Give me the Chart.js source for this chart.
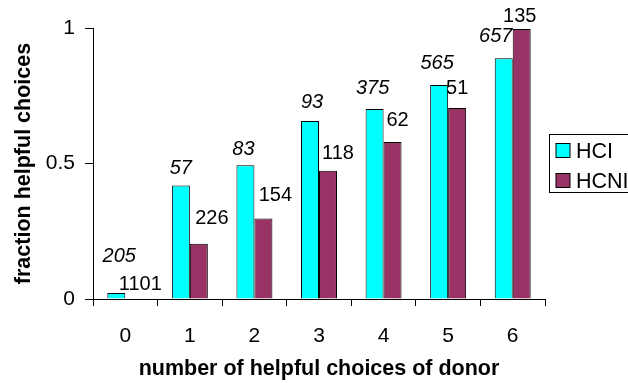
<!DOCTYPE html>
<html>
<head>
<meta charset="utf-8">
<script src="https://cdn.jsdelivr.net/npm/chart.js@4/dist/chart.umd.min.js"></script>
<style>
  html, body { margin: 0; padding: 0; background: #fff; overflow: hidden; }
  #wrap { width: 628px; height: 383px; position: relative; }
</style>
</head>
<body>
<div id="wrap"><canvas id="c" width="628" height="383"></canvas></div>
<script>
// ---- data ----
const categories = ["0", "1", "2", "3", "4", "5", "6"];
const seriesNames = ["HCI", "HCNI"];
const hciValues  = [0.022, 0.419, 0.494, 0.657, 0.701, 0.790, 0.888];
const hcniValues = [0.000, 0.204, 0.297, 0.473, 0.579, 0.705, 0.996];
const hciCounts  = [205, 57, 83, 93, 375, 565, 657];
const hcniCounts = [1101, 226, 154, 118, 62, 51, 135];
const yTicks = [0, 0.5, 1];
const xTitle = "number of helpful choices of donor";
const yTitle = "fraction helpful choices";

// ---- styling / label placement (pixels, relative to bar top centre) ----
const FONT = "'Liberation Sans', Arial, sans-serif";
const labelOffsets = [
  [[3, -38], [0, -19], [-2, -17], [2, -20], [-2, -22], [-2, -23], [-8, -24]],
  [[6, -16], [13, -27], [12, -25], [10, -19], [5, -23], [0, -21], [-2, -14]]
];
const countSets = [hciCounts, hcniCounts];
const labelItalic = [true, false];

const dataLabelPlugin = {
  id: 'dataLabels',
  afterDatasetsDraw(chart) {
    const ctx = chart.ctx;
    const fs = 20;
    ctx.save();
    ctx.fillStyle = '#000';
    ctx.textAlign = 'center';
    ctx.textBaseline = 'alphabetic';
    chart.data.datasets.forEach((ds, di) => {
      const meta = chart.getDatasetMeta(di);
      ctx.font = (labelItalic[di] ? 'italic ' : '') + fs + 'px ' + FONT;
      meta.data.forEach((el, i) => {
        const off = labelOffsets[di][i];
        const x = el.x + off[0];
        const y = el.y + off[1] + 0.358 * fs;
        ctx.fillText(String(countSets[di][i]), x, y);
      });
    });
    ctx.restore();
  }
};

const legendPlugin = {
  id: 'boxLegend',
  afterDraw(chart) {
    const ctx = chart.ctx;
    ctx.save();
    ctx.strokeStyle = '#000';
    ctx.lineWidth = 1;
    ctx.strokeRect(549.5, 134.5, 200, 58);
    ctx.font = '21.5px ' + FONT;
    ctx.textBaseline = 'alphabetic';
    ctx.textAlign = 'left';
    chart.data.datasets.forEach((ds, di) => {
      const top = 143.5 + di * 30;
      ctx.fillStyle = ds.backgroundColor;
      ctx.fillRect(556, top, 14, 14);
      ctx.strokeStyle = '#000';
      ctx.strokeRect(556, top, 14, 14);
      ctx.fillStyle = '#000';
      ctx.fillText(ds.label, 576, top + 14.8);
    });
    ctx.restore();
  }
};

new Chart(document.getElementById('c'), {
  type: 'bar',
  data: {
    labels: categories,
    datasets: [
      { label: seriesNames[0], data: hciValues, backgroundColor: '#00FFFF', borderColor: '#000', borderWidth: 1 },
      { label: seriesNames[1], data: hcniValues, backgroundColor: '#993366', borderColor: '#000', borderWidth: 1 }
    ]
  },
  options: {
    responsive: false,
    animation: false,
    devicePixelRatio: 1,
    categoryPercentage: 0.557,
    barPercentage: 1.0,
    layout: { padding: { top: 28, right: 83, left: 0, bottom: 0 } },
    plugins: { legend: { display: false }, tooltip: { enabled: false } },
    scales: {
      x: {
        offset: true,
        grid: { offset: true, drawOnChartArea: false, drawTicks: true, tickLength: 7, color: '#000' },
        border: { display: true, color: '#000' },
        ticks: { color: '#000', font: { family: FONT, size: 21 }, padding: 18, maxRotation: 0 },
        title: { display: true, text: xTitle, color: '#000', font: { family: FONT, size: 21.5, weight: 'bold' }, padding: { top: 0, bottom: 1 } },
        afterFit(scale) { scale.height = 84; }
      },
      y: {
        min: 0, max: 1,
        afterBuildTicks(scale) { scale.ticks = yTicks.map(v => ({ value: v })); },
        grid: { drawOnChartArea: false, drawTicks: true, tickLength: 8, color: '#000' },
        border: { display: true, color: '#000' },
        ticks: { color: '#000', font: { family: FONT, size: 21 }, padding: 10,
                 callback: v => String(v) },
        title: { display: true, text: yTitle, color: '#000', font: { family: FONT, size: 21.5, weight: 'bold' }, padding: { top: 11, bottom: 0 } },
        afterFit(scale) { scale.width = 93; }
      }
    }
  },
  plugins: [dataLabelPlugin, legendPlugin]
});
</script>
</body>
</html>
